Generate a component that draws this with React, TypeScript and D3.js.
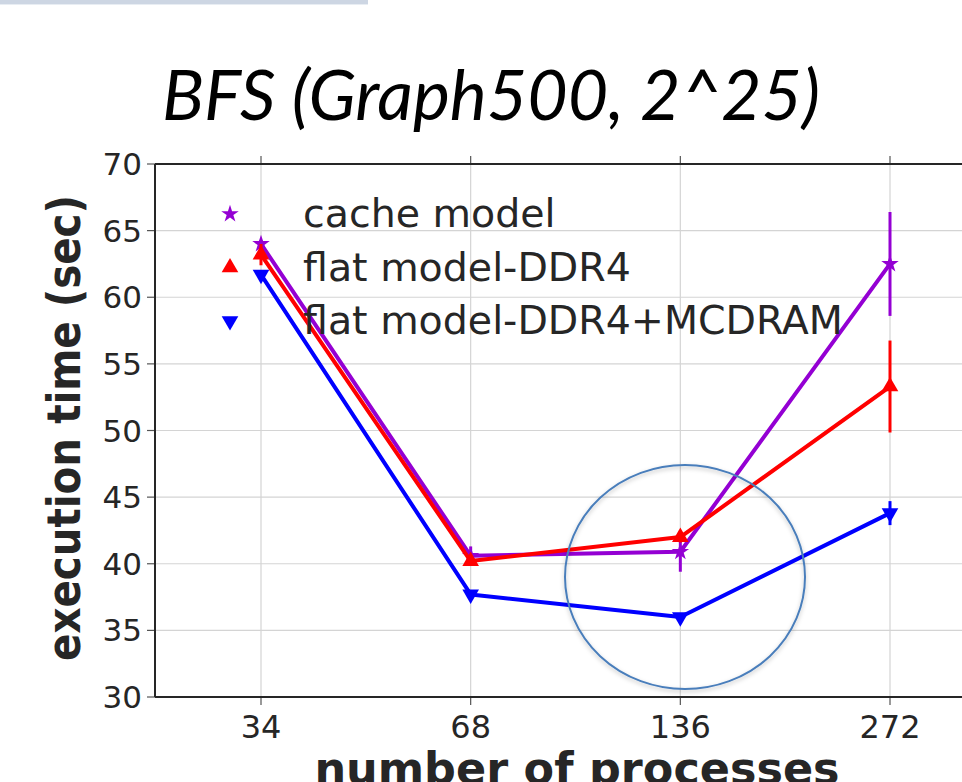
import React, { useEffect, useRef } from 'react';
import * as d3 from 'd3';

const processes = [34, 68, 136, 272];
const yTicks = [30, 35, 40, 45, 50, 55, 60, 65, 70];

const seriesNames = ['cache model', 'flat model-DDR4', 'flat model-DDR4+MCDRAM'];
const seriesColors = ['#9400d3', '#ff0000', '#0000ff'];

const cacheModel = [64.0, 40.6, 40.9, 62.5];
const cacheModelErr = [0.3, 0.7, 1.5, 3.9];
const flatDDR4 = [63.2, 40.2, 42.0, 53.3];
const flatDDR4Err = [0.8, 0.3, 0.4, 3.45];
const flatMCDRAM = [61.7, 37.7, 36.0, 43.8];
const flatMCDRAMErr = [0.2, 0.2, 0.2, 0.9];

interface Series {
  name: string;
  color: string;
  values: number[];
  errors: number[];
  symbol: d3.SymbolType;
  size: number;
  rotate: number;
}

const App: React.FC = () => {
  const svgRef = useRef<SVGSVGElement | null>(null);

  useEffect(() => {
    if (!svgRef.current) return;
    const width = 962;
    const height = 782;

    const svg = d3.select(svgRef.current);
    svg.selectAll('*').remove();
    svg.attr('width', width).attr('height', height);

    const left = 155;
    const right = 1010;
    const top = 164;
    const bottom = 697;

    const x = d3.scaleLog().base(2).domain([34, 272]).range([261, 890]);
    const y = d3.scaleLinear().domain([30, 70]).range([bottom, top]);

    const series: Series[] = [
      { name: seriesNames[0], color: seriesColors[0], values: cacheModel, errors: cacheModelErr, symbol: d3.symbolStar, size: 95, rotate: 0 },
      { name: seriesNames[1], color: seriesColors[1], values: flatDDR4, errors: flatDDR4Err, symbol: d3.symbolTriangle, size: 120, rotate: 0 },
      { name: seriesNames[2], color: seriesColors[2], values: flatMCDRAM, errors: flatMCDRAMErr, symbol: d3.symbolTriangle, size: 120, rotate: 180 },
    ];

    // slide header strip
    svg.append('rect').attr('x', 0).attr('y', 0).attr('width', 368).attr('height', 4).attr('fill', '#cdd6e3');
    svg.append('rect').attr('x', 0).attr('y', 4).attr('width', 368).attr('height', 1).attr('fill', '#e8edf3');

    // title
    svg
      .append('text')
      .attr('x', 162)
      .attr('y', 120)
      .attr('textLength', 658)
      .attr('lengthAdjust', 'spacingAndGlyphs')
      .style('font-family', 'Lato, "Open Sans", sans-serif')
      .style('font-style', 'italic')
      .style('font-size', '70px')
      .style('fill', '#000')
      .text('BFS (Graph500, 2^25)');

    // grid
    svg
      .append('g')
      .selectAll('line')
      .data(yTicks)
      .enter()
      .append('line')
      .attr('x1', left)
      .attr('x2', right)
      .attr('y1', (d) => y(d))
      .attr('y2', (d) => y(d))
      .attr('stroke', '#d4d4d4')
      .attr('stroke-width', 1.2);

    svg
      .append('g')
      .selectAll('line')
      .data(processes)
      .enter()
      .append('line')
      .attr('x1', (d) => x(d))
      .attr('x2', (d) => x(d))
      .attr('y1', top)
      .attr('y2', bottom)
      .attr('stroke', '#d4d4d4')
      .attr('stroke-width', 1.2);

    // y axis
    const yAxis = svg.append('g').attr('transform', `translate(${left},0)`);
    yAxis
      .selectAll('line')
      .data(yTicks)
      .enter()
      .append('line')
      .attr('x1', -8)
      .attr('x2', 0)
      .attr('y1', (d) => y(d))
      .attr('y2', (d) => y(d))
      .attr('stroke', '#555')
      .attr('stroke-width', 1.2);
    yAxis
      .selectAll('text')
      .data(yTicks)
      .enter()
      .append('text')
      .attr('x', -13)
      .attr('y', (d) => y(d) + 11)
      .style('text-anchor', 'end')
      .style('font-family', '"DejaVu Sans", sans-serif')
      .style('font-size', '31px')
      .style('fill', '#262626')
      .text((d) => d);

    // x axis ticks
    const xAxis = svg.append('g');
    xAxis
      .selectAll('line.b')
      .data(processes)
      .enter()
      .append('line')
      .attr('x1', (d) => x(d))
      .attr('x2', (d) => x(d))
      .attr('y1', bottom)
      .attr('y2', bottom + 8)
      .attr('stroke', '#555')
      .attr('stroke-width', 1.2);
    xAxis
      .selectAll('line.t')
      .data(processes)
      .enter()
      .append('line')
      .attr('x1', (d) => x(d))
      .attr('x2', (d) => x(d))
      .attr('y1', top - 8)
      .attr('y2', top)
      .attr('stroke', '#555')
      .attr('stroke-width', 1.2);
    xAxis
      .selectAll('text')
      .data(processes)
      .enter()
      .append('text')
      .attr('x', (d) => x(d))
      .attr('y', 738)
      .style('text-anchor', 'middle')
      .style('font-family', '"DejaVu Sans", sans-serif')
      .style('font-size', '32px')
      .style('fill', '#262626')
      .text((d) => d);

    // spines
    svg.append('line').attr('x1', left).attr('x2', left).attr('y1', top).attr('y2', bottom).attr('stroke', '#262626').attr('stroke-width', 2);
    svg.append('line').attr('x1', left).attr('x2', right).attr('y1', top).attr('y2', top).attr('stroke', '#262626').attr('stroke-width', 2);
    svg.append('line').attr('x1', left).attr('x2', right).attr('y1', bottom).attr('y2', bottom).attr('stroke', '#262626').attr('stroke-width', 2);

    // axis labels
    svg
      .append('text')
      .attr('transform', `translate(80, 428) rotate(-90)`)
      .attr('x', -233)
      .attr('textLength', 466)
      .attr('lengthAdjust', 'spacingAndGlyphs')
      .style('font-family', '"DejaVu Sans", sans-serif')
      .style('font-weight', 'bold')
      .style('font-size', '47px')
      .style('fill', '#262626')
      .text('execution time (sec)');

    svg
      .append('text')
      .attr('x', 577)
      .attr('y', 784)
      .style('text-anchor', 'middle')
      .style('font-family', '"DejaVu Sans", sans-serif')
      .style('font-weight', 'bold')
      .style('font-size', '44.5px')
      .style('fill', '#262626')
      .text('number of processes');

    // series
    const line = d3
      .line<number>()
      .x((_, i) => x(processes[i]))
      .y((d) => y(d));

    series.forEach((s) => {
      const g = svg.append('g');
      g.append('path')
        .attr('d', line(s.values) as string)
        .attr('fill', 'none')
        .attr('stroke', s.color)
        .attr('stroke-width', 4)
        .attr('stroke-linejoin', 'round');

      g.selectAll('line')
        .data(s.values)
        .enter()
        .append('line')
        .attr('x1', (_, i) => x(processes[i]))
        .attr('x2', (_, i) => x(processes[i]))
        .attr('y1', (d, i) => y(d - s.errors[i]))
        .attr('y2', (d, i) => y(d + s.errors[i]))
        .attr('stroke', s.color)
        .attr('stroke-width', 3);

      const sym = d3.symbol().type(s.symbol).size(s.size);
      g.selectAll('path.m')
        .data(s.values)
        .enter()
        .append('path')
        .attr('d', sym() as string)
        .attr('transform', (d, i) => `translate(${x(processes[i])},${y(d)}) rotate(${s.rotate})`)
        .attr('fill', s.color);
    });

    // legend
    const legend = svg.append('g');
    series.forEach((s, i) => {
      const cy = 214 + i * 53.5;
      const sym = d3.symbol().type(s.symbol).size(s.size);
      legend
        .append('path')
        .attr('d', sym() as string)
        .attr('transform', `translate(230,${cy}) rotate(${s.rotate})`)
        .attr('fill', s.color);
      legend
        .append('text')
        .attr('x', 303)
        .attr('y', cy + 13)
        .style('font-family', '"DejaVu Sans", sans-serif')
        .style('font-size', '39.5px')
        .style('fill', '#262626')
        .text(s.name);
    });

    // highlight ellipse
    const defs = svg.append('defs');
    const filter = defs.append('filter').attr('id', 'shadow').attr('x', '-20%').attr('y', '-20%').attr('width', '140%').attr('height', '140%');
    filter.append('feDropShadow').attr('dx', 0).attr('dy', 2).attr('stdDeviation', 2).attr('flood-color', '#000').attr('flood-opacity', 0.25);
    svg
      .append('ellipse')
      .attr('cx', 685)
      .attr('cy', 577)
      .attr('rx', 120)
      .attr('ry', 112)
      .attr('fill', 'none')
      .attr('stroke', '#4a7ebb')
      .attr('stroke-width', 2)
      .attr('filter', 'url(#shadow)');
  }, []);

  return (
    <svg
      ref={svgRef}
      style={{ position: 'absolute', left: 0, top: 0, background: '#fff' }}
    ></svg>
  );
};

export default App;
